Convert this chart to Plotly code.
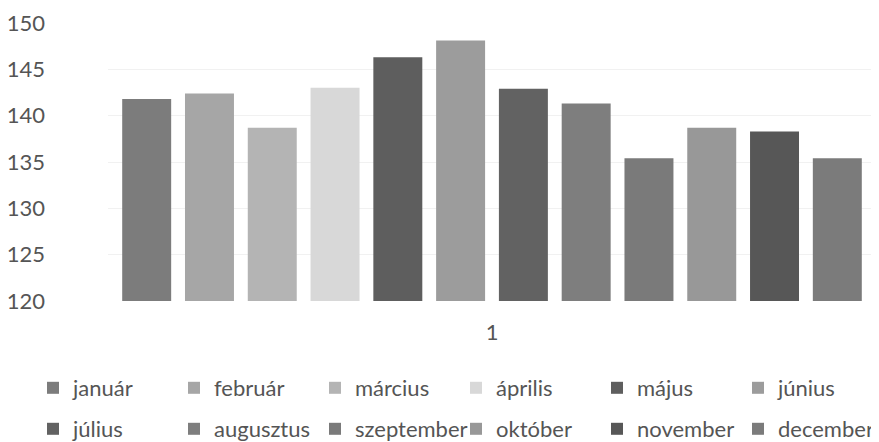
import plotly.graph_objects as go

categories = ["1"]
months = ["január", "február", "március", "április", "május", "június",
          "július", "augusztus", "szeptember", "október", "november", "december"]
values = [141.8, 142.4, 138.7, 143.0, 146.3, 148.1,
          142.9, 141.3, 135.4, 138.7, 138.3, 135.4]
colors = ["#7c7c7c", "#a6a6a6", "#b4b4b4", "#d8d8d8", "#5e5e5e", "#9c9c9c",
          "#626262", "#7e7e7e", "#7a7a7a", "#989898", "#575757", "#7b7b7b"]
yticks = [120, 125, 130, 135, 140, 145, 150]

# page has an 8px body margin; figure coordinates are page coordinates - 8
W, H = 871, 434
L, R, T, B = 100, 868, 15, 293

fig = go.Figure()
for i, (m, v, c) in enumerate(zip(months, values, colors)):
    fig.add_trace(go.Bar(
        x=categories, y=[v], name=m,
        marker=dict(color=c, line=dict(width=0)),
        legend="legend" if i < 6 else "legend2",
        legendwidth=100 if i in (5, 11) else None,
    ))

font_family = "Lato, 'Open Sans', sans-serif"
legend_common = dict(
    orientation="h", xanchor="left", yanchor="middle",
    x=(25 - L) / (R - L),
    entrywidth=96, entrywidthmode="pixels",
    font=dict(family=font_family, size=22, color="#555555"),
    bgcolor="rgba(0,0,0,0)", itemclick=False, itemdoubleclick=False,
)

fig.update_layout(
    width=W, height=H,
    margin=dict(l=L, r=W - R, t=T, b=H - B, pad=0, autoexpand=False),
    paper_bgcolor="white", plot_bgcolor="white",
    barmode="group", bargap=0.019, bargroupgap=0.22,
    font=dict(family=font_family, size=22, color="#555555"),
    showlegend=True,
    legend=dict(legend_common, y=(B - 380) / (B - T)),
    legend2=dict(legend_common, y=(B - 421) / (B - T)),
    xaxis=dict(type="category", showgrid=False, showline=False, zeroline=False,
               ticks="", ticklabelstandoff=16,
               tickfont=dict(family=font_family, size=22, color="#555555")),
    yaxis=dict(range=[120, 150], tickvals=yticks, showline=False, zeroline=False,
               showgrid=True, gridcolor="#f1f1f1", gridwidth=1,
               ticks="", ticklabelstandoff=62,
               tickfont=dict(family=font_family, size=22, color="#555555")),
)

fig.write_html("out.html")
